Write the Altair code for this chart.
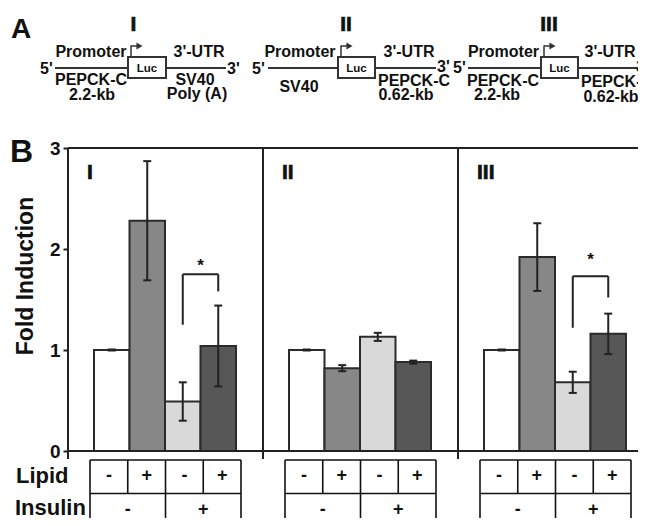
import altair as alt
import pandas as pd

# ---------------- data ----------------
panels = ["I", "II", "III"]
lipid = ["-", "+", "-", "+"]
insulin = ["-", "+"]
fold_I = [1.00, 2.28, 0.49, 1.04]
err_I = [0.005, 0.59, 0.19, 0.40]
fold_II = [1.00, 0.82, 1.13, 0.88]
err_II = [0.005, 0.03, 0.04, 0.015]
fold_III = [1.00, 1.92, 0.68, 1.16]
err_III = [0.005, 0.335, 0.105, 0.20]
bar_colors = ["#ffffff", "#878787", "#d9d9d9", "#575757"]
y_ticks = [0, 1, 2, 3]

sig_panel = [0, 2]
sig_left = [1.25, 1.22]
sig_top = [1.75, 1.73]
sig_right = [1.58, 1.52]
sig_star = [1.87, 1.93]

# ---------------- layout (page px) ----------------
OX, OY = 68, 8
W, H = 570, 510
PANEL_W = 195
BAR_OFF = 26
BAR_W = 35.5
CELL_W = 37.75
CELL_C = 97.5
FONT = "Liberation Sans"
INK = "#222222"

ysc = alt.Scale(domain=[(443 - H) / 101, 443 / 101], nice=False, zero=False)
noy = dict(scale=None, axis=None)

folds = [fold_I, fold_II, fold_III]
errs = [err_I, err_II, err_III]
rows, caps = [], []
for i, p in enumerate(panels):
    for j in range(4):
        left = i * PANEL_W + BAR_OFF + j * BAR_W
        v, e = folds[i][j], errs[i][j]
        xc = left + BAR_W / 2
        rows.append(dict(panel=p, x=left, x2=left + BAR_W, xc=xc, value=v,
                         lo=v - e, hi=v + e, color=bar_colors[j]))
        caps.append(dict(xa=xc - 4, xb=xc + 4, y=v + e))
        caps.append(dict(xa=xc - 4, xb=xc + 4, y=v - e))
df = pd.DataFrame(rows)
df_caps = pd.DataFrame(caps)

bars = alt.Chart(df).mark_bar(stroke="#2b2b2b", strokeWidth=2).encode(
    x=alt.X("x:Q", scale=None, axis=None), x2="x2:Q",
    y=alt.Y("value:Q", scale=ysc,
            axis=alt.Axis(values=y_ticks, format="d", domain=False, grid=False, title=None,
                          tickSize=5, tickWidth=2, tickColor=INK,
                          labelFont=FONT, labelFontWeight="bold", labelFontSize=19,
                          labelColor="#111", labelPadding=3)),
    y2=alt.datum(0),
    fill=alt.Fill("color:N", scale=None),
)
err_rule = alt.Chart(df).mark_rule(color=INK, strokeWidth=2).encode(
    x=alt.X("xc:Q", scale=None, axis=None), y=alt.Y("lo:Q", scale=ysc), y2="hi:Q")
err_caps = alt.Chart(df_caps).mark_rule(color=INK, strokeWidth=2).encode(
    x=alt.X("xa:Q", scale=None, axis=None), x2="xb:Q", y=alt.Y("y:Q", scale=ysc))

# significance brackets
sig = pd.DataFrame(dict(
    xl=[k * PANEL_W + BAR_OFF + 2.5 * BAR_W for k in sig_panel],
    xr=[k * PANEL_W + BAR_OFF + 3.5 * BAR_W for k in sig_panel],
    left=sig_left, top=sig_top, right=sig_right, star=sig_star))
sig["xm"] = (sig.xl + sig.xr) / 2
br1 = alt.Chart(sig).mark_rule(color=INK, strokeWidth=2).encode(
    x=alt.X("xl:Q", scale=None, axis=None), y=alt.Y("left:Q", scale=ysc), y2="top:Q")
br2 = alt.Chart(sig).mark_rule(color=INK, strokeWidth=2).encode(
    x=alt.X("xl:Q", scale=None, axis=None), x2="xr:Q", y=alt.Y("top:Q", scale=ysc))
br3 = alt.Chart(sig).mark_rule(color=INK, strokeWidth=2).encode(
    x=alt.X("xr:Q", scale=None, axis=None), y=alt.Y("right:Q", scale=ysc), y2="top:Q")
stars = alt.Chart(sig).mark_text(font=FONT, fontWeight="bold", fontSize=17, dy=9,
                                 baseline="alphabetic", color="#111").encode(
    x=alt.X("xm:Q", scale=None, axis=None), y=alt.Y("star:Q", scale=ysc),
    text=alt.value("*"))

# frame of panel B
frame_h = alt.Chart(pd.DataFrame(dict(v=[0, 3]))).mark_rule(color=INK, strokeWidth=2).encode(
    x=alt.value(0), x2=alt.value(W), y=alt.Y("v:Q", scale=ysc))
frame_v = alt.Chart(pd.DataFrame(dict(xb=[k * PANEL_W for k in range(3)]))).mark_rule(
    color=INK, strokeWidth=2).encode(
    x=alt.X("xb:Q", scale=None, axis=None), y=alt.datum(3, scale=ysc), y2=alt.datum(-0.08))

# table (plot px)
T_TOP, T_MID, T_BOT = 460 - OY, 493.5 - OY, H
hl, vl, signs = [], [], []
for i in range(3):
    c0 = i * PANEL_W + CELL_C
    xL, xR = c0 - 2 * CELL_W, c0 + 2 * CELL_W
    for yy in (T_TOP, T_MID):
        hl.append(dict(x=xL, x2=xR, y=yy))
    for k in range(5):
        xx = xL + k * CELL_W
        vl.append(dict(x=xx, y=T_TOP, y2=T_BOT if k in (0, 2, 4) else T_MID))
    for j in range(4):
        signs.append(dict(x=xL + (j + 0.5) * CELL_W, y=481 - OY, t=lipid[j]))
    for j in range(2):
        signs.append(dict(x=xL + (2 * j + 1) * CELL_W, y=515 - OY, t=insulin[j]))
tab_h = alt.Chart(pd.DataFrame(hl)).mark_rule(color="#111", strokeWidth=1.6).encode(
    x=alt.X("x:Q", scale=None, axis=None), x2="x2:Q", y=alt.Y("y:Q", **noy))
tab_v = alt.Chart(pd.DataFrame(vl)).mark_rule(color="#111", strokeWidth=1.6).encode(
    x=alt.X("x:Q", scale=None, axis=None), y=alt.Y("y:Q", **noy), y2="y2:Q")
tab_t = alt.Chart(pd.DataFrame(signs)).mark_text(font=FONT, fontWeight="bold", fontSize=18,
                                                 baseline="alphabetic", color="#111").encode(
    x=alt.X("x:Q", scale=None, axis=None), y=alt.Y("y:Q", **noy), text="t:N")

# ---------------- annotations (page px) ----------------
ann = [
    # text, x, y(baseline), size, align
    ("A", 11, 38, 28, "left"),
    ("Promoter", 91, 57, 16, "center"), ("Promoter", 300, 57, 16, "center"),
    ("Promoter", 503.5, 57, 16, "center"),
    ("3'-UTR", 199, 57, 16, "center"), ("3'-UTR", 409, 57, 16, "center"),
    ("3'-UTR", 610, 57, 16, "center"),
    ("5'", 40, 74, 16, "left"), ("5'", 252, 74, 16, "left"), ("5'", 453, 73, 16, "left"),
    ("3'", 227, 74, 16, "left"), ("3'", 437, 72, 16, "left"), ("3'", 636, 72, 16, "left"),
    ("PEPCK-C", 91, 85, 16, "center"), ("2.2-kb", 92, 100, 16, "center"),
    ("SV40", 195, 85, 16, "center"), ("Poly (A)", 197, 99, 16, "center"),
    ("SV40", 299, 92, 16, "center"),
    ("PEPCK-C", 414, 86, 16, "center"), ("0.62-kb", 406, 100, 16, "center"),
    ("PEPCK-C", 503, 86, 16, "center"), ("2.2-kb", 497, 100, 16, "center"),
    ("PEPCK-C", 581, 87, 16, "left"), ("0.62-kb", 611, 102, 16, "center"),
    ("Luc", 147, 72, 11.5, "center"), ("Luc", 356.5, 72, 11.5, "center"),
    ("Luc", 559.5, 72, 11.5, "center"),
    ("B", 10, 162, 32, "left"),
    ("Lipid", 16, 483, 22, "left"), ("Insulin", 15, 515, 22, "left"),
]
heads = [
    ("I", 133.5, 31, 21, "center"), ("II", 346, 31, 21, "center"), ("III", 549, 31, 21, "center"),
    ("I", 87, 179, 21, "left"), ("II", 282, 179, 21, "left"), ("III", 477, 179, 21, "left"),
]
df_ann = pd.DataFrame(ann, columns=["t", "x", "y", "s", "a"])
df_ann["x"] = df_ann.x - OX
df_ann["y"] = df_ann.y - OY
df_head = pd.DataFrame(heads, columns=["t", "x", "y", "s", "a"])
df_head["x"] = df_head.x - OX
df_head["y"] = df_head.y - OY


def text_layer(d, align, heavy=False):
    extra = dict(stroke="#111", strokeWidth=0.7) if heavy else {}
    return alt.Chart(d).mark_text(font=FONT, fontWeight="bold", align=align,
                                  baseline="alphabetic", color="#111", **extra).encode(
        x=alt.X("x:Q", scale=None, axis=None), y=alt.Y("y:Q", **noy), text="t:N",
        size=alt.Size("s:Q", scale=None, legend=None))


txt_left = text_layer(df_ann[df_ann.a == "left"], "left")
txt_center = text_layer(df_ann[df_ann.a == "center"], "center")
head_left = text_layer(df_head[df_head.a == "left"], "left", heavy=True)
head_center = text_layer(df_head[df_head.a == "center"], "center", heavy=True)
ytitle = alt.Chart(pd.DataFrame(dict(x=[33 - OX], y=[276 - OY], t=["Fold Induction"]))).mark_text(
    font=FONT, fontWeight="bold", fontSize=23, angle=270, align="center",
    baseline="alphabetic", color="#111").encode(
    x=alt.X("x:Q", scale=None, axis=None), y=alt.Y("y:Q", **noy), text="t:N")

# construct diagrams (page px)
seg = [(55, 128), (166, 226), (268, 338), (375, 436), (468, 541), (578, 640)]
boxes = [(128, 166), (338, 375), (541, 578)]
df_seg = pd.DataFrame(dict(x=[a - OX for a, b in seg], x2=[b - OX for a, b in seg], y=[68 - OY] * len(seg)))
df_box = pd.DataFrame(dict(x=[a - OX for a, b in boxes], x2=[b - OX for a, b in boxes],
                           y=[57 - OY] * 3, y2=[78 - OY] * 3))
arr_v = pd.DataFrame(dict(x=[a + 3 - OX for a, b in boxes], y=[45.5 - OY] * 3, y2=[57 - OY] * 3))
arr_h = pd.DataFrame(dict(x=[a + 3 - OX for a, b in boxes], x2=[a + 10 - OX for a, b in boxes],
                          y=[46 - OY] * 3))
arr_p = pd.DataFrame(dict(x=[a + 11.5 - OX for a, b in boxes], y=[46 - OY] * 3))

d_seg = alt.Chart(df_seg).mark_rule(color="#333", strokeWidth=2).encode(
    x=alt.X("x:Q", scale=None, axis=None), x2="x2:Q", y=alt.Y("y:Q", **noy))
d_box = alt.Chart(df_box).mark_rect(fill="white", stroke="#333", strokeWidth=2).encode(
    x=alt.X("x:Q", scale=None, axis=None), x2="x2:Q", y=alt.Y("y:Q", **noy), y2="y2:Q")
d_av = alt.Chart(arr_v).mark_rule(color="#333", strokeWidth=1.5).encode(
    x=alt.X("x:Q", scale=None, axis=None), y=alt.Y("y:Q", **noy), y2="y2:Q")
d_ah = alt.Chart(arr_h).mark_rule(color="#333", strokeWidth=1.5).encode(
    x=alt.X("x:Q", scale=None, axis=None), x2="x2:Q", y=alt.Y("y:Q", **noy))
d_ap = alt.Chart(arr_p).mark_point(shape="triangle-right", filled=True, size=50,
                                   color="#333", opacity=1).encode(
    x=alt.X("x:Q", scale=None, axis=None), y=alt.Y("y:Q", **noy))

chart = alt.layer(
    bars, err_rule, err_caps, br1, br2, br3, stars, frame_h, frame_v,
    tab_h, tab_v, tab_t, d_seg, d_box, d_av, d_ah, d_ap,
    txt_left, txt_center, head_left, head_center, ytitle,
).properties(
    width=W, height=H,
    autosize=alt.AutoSizeParams(type="none"),
    padding={"left": OX - 8, "top": 0, "right": 0, "bottom": 0},
    background="white",
).configure_view(stroke=None)

chart.save("out.html", embed_options={"renderer": "svg", "actions": False})
